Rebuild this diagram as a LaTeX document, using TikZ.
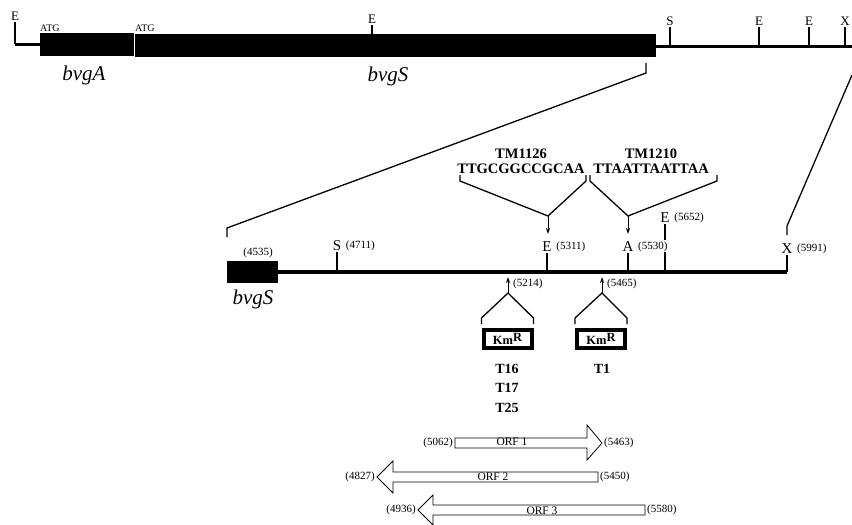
\documentclass[tikz,border=0pt]{standalone}
\usepackage{fontspec}
\setmainfont{Liberation Serif}
\usetikzlibrary{arrows.meta,positioning,calc}

\begin{document}
\begin{tikzpicture}[x=1pt, y=-1pt,
  dna/.style={line width=3pt},
  gene/.style={fill=black},
  sitetick/.style={line width=1.2pt},
  site/.style={font=\fontsize{13}{13}\selectfont, inner sep=1pt, anchor=south},
  msite/.style={site, font=\fontsize{15}{15}\selectfont},
  coord/.style={font=\fontsize{11}{11}\selectfont, inner sep=1pt, anchor=west},
  link/.style={line width=1.3pt},
  arr/.style={-{Stealth[length=6pt,width=4pt]}, line width=1pt},
  kmbox/.style={draw, line width=4pt, fill=white, minimum width=48pt,
    minimum height=18pt, inner sep=0pt, font=\bfseries\fontsize{12.5}{12.5}\selectfont},
  strain/.style={font=\bfseries\fontsize{14}{19.5}\selectfont, align=center, inner sep=1pt},
  oligo/.style={font=\bfseries\fontsize{14.5}{15}\selectfont, align=center, inner sep=1pt},
  orf/.style={draw, line width=0.8pt},
  orflbl/.style={font=\fontsize{11.5}{11.5}\selectfont, inner sep=1pt},
  gname/.style={font=\itshape\fontsize{21}{21}\selectfont, inner sep=1pt}
]
\useasboundingbox (0,0) rectangle (852,525);

% Top map
\draw[dna] (15,44) -- (40,44);
\fill[gene] (40,33) rectangle (133.5,56);
\fill[gene] (135,34) rectangle (656,57);
\draw[dna] (656,46) -- (852,46);
\draw[sitetick] (15,44) -- (15,22) node[site] (tE0) {E};
\draw[sitetick] (372,34) -- (372,25) node[site] (tE1) {E};
\foreach \x/\t [count=\i] in {670/S, 759/E, 809/E, 845/X}
  \draw[sitetick] (\x,46) -- (\x,27) node[site] (tR\i) {\t};
\node[font=\fontsize{10}{10}\selectfont, inner sep=0pt, anchor=south west]
  (atgA) at (40,32) {ATG};
\node[font=\fontsize{10}{10}\selectfont, inner sep=0pt, anchor=south west]
  (atgS) at (135,32) {ATG};
\node[gname] (bvgA) at (84,75) {bvgA};
\node[gname] (bvgS) at (388,76) {bvgS};

% Enlarged region
\fill[gene] (227,261) rectangle (278,283);
\draw[line width=4pt] (278,272) -- (787,272);
\node[gname] (bvgS2) at (253,299) {bvgS};
\node[coord, anchor=center] (c4535) at (258,253) {(4535)};
\draw[sitetick] (337,272) -- (337,252) node[msite] (mS) {S};
\draw[sitetick] (547,272) -- (547,253) node[msite] (mE1) {E};
\draw[sitetick] (628,272) -- (628,253) node[msite] (mA) {A};
\draw[sitetick] (665,272) -- (665,224) node[msite] (mE2) {E};
\draw[sitetick] (787,272) -- (787,255) node[msite] (mX) {X};
\node[coord, right=2pt of mS] (c4711) {(4711)};
\node[coord, right=2pt of mE1] (c5311) {(5311)};
\node[coord, right=2pt of mA, fill=white] (c5530) {(5530)};
\node[coord, right=2pt of mE2] (c5652) {(5652)};
\node[coord, right=2pt of mX] (c5991) {(5991)};

% Zoom lines
\coordinate (zL) at (646,63);
\coordinate (zR) at (852,75);
\draw[link] (227,237) -- (227,228) -- (646,73) -- (zL);
\draw[link] (zR) -- (787,226) -- (787,235);

% Linker insertions
\node[oligo] (tm1126) at (521,161) {TM1126\\TTGCGGCCGCAA};
\node[oligo] (tm1210) at (651,161) {TM1210\\TTAATTAATTAA};
\coordinate (j1) at (548,216);
\coordinate (j2) at (628,216);
\draw[link] (460,175) -- (460,181) -- (j1) -- (586,181) -- (586,175);
\draw[link] (590,175) -- (590,181) -- (j2) -- (717,181) -- (717,175);
\draw[arr] (j1) -- ++(0,18);
\draw[arr] (j2) -- ++(0,18);

% Transposon insertions
\coordinate (i1) at (508,293);
\coordinate (i2) at (602,293);
\draw[arr] (i1) -- ++(0,-16);
\draw[arr] (i2) -- ++(0,-16);
\node[coord] (c5214) at (512,284) {(5214)};
\node[coord] (c5465) at (606,284) {(5465)};
\node[kmbox] (km1) at (507.5,339) {Km\raisebox{3pt}{R}};
\node[kmbox] (km2) at (601,339) {Km\raisebox{3pt}{R}};
\draw[link] ($(km1.north west)+(0,-4)$) -- ++(0,-6) -- (i1)
  -- ($(km1.north east)+(0,-10)$) -- ++(0,6);
\draw[link] ($(km2.north west)+(0,-4)$) -- ++(0,-6) -- (i2)
  -- ($(km2.north east)+(0,-10)$) -- ++(0,6);
\node[strain] (s1) at (507,388) {T16\\T17\\T25};
\node[strain] (s2) at (602,369) {T1};

% ORFs
\draw[orf] (455,438) -- (587,438) -- (587,425) -- (602,443) -- (587,460)
  -- (587,448) -- (455,448) -- cycle;
\node[orflbl] (orf1) at (512,442) {ORF 1};
\node[coord, anchor=east] (c5062) at (454,443) {(5062)};
\node[coord] (c5463) at (603,443) {(5463)};

\draw[orf] (598,472) -- (393,472) -- (393,461) -- (377,477) -- (393,493)
  -- (393,482) -- (598,482) -- cycle;
\node[orflbl] (orf2) at (493,477) {ORF 2};
\node[coord, anchor=east] (c4827) at (376,477) {(4827)};
\node[coord] (c5450) at (599,477) {(5450)};

\draw[orf] (645,505) -- (433,505) -- (433,495) -- (418,510) -- (433,525)
  -- (433,515) -- (645,515) -- cycle;
\node[orflbl] (orf3) at (542,511) {ORF 3};
\node[coord, anchor=east] (c4936) at (417,510) {(4936)};
\node[coord] (c5580) at (646,510) {(5580)};

\end{tikzpicture}
\end{document}
